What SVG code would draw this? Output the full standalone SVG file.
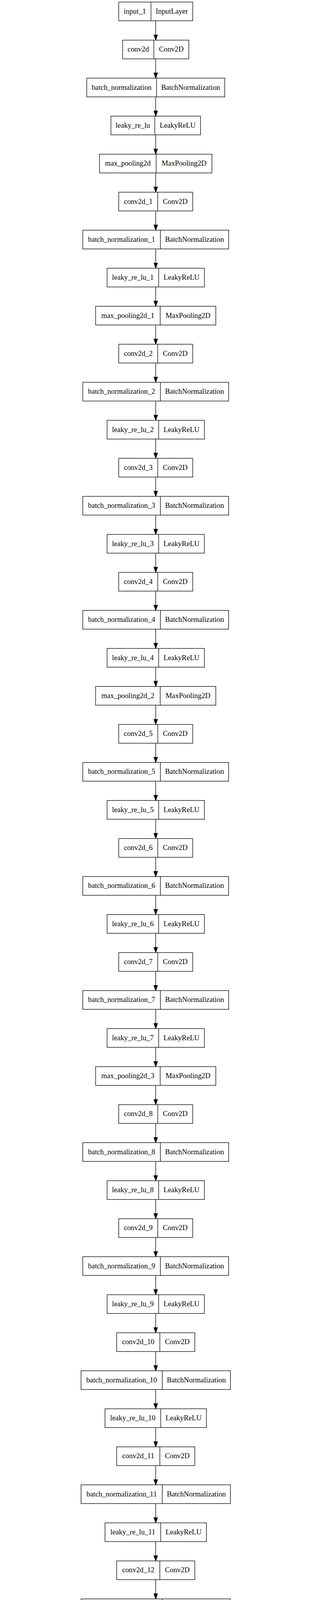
<svg xmlns="http://www.w3.org/2000/svg" width="800" height="6873" viewBox="0 0 800 6873">
<style>
.node rect{fill:#fff;stroke:#000;stroke-width:1.33}
.node line{stroke:#000;stroke-width:1.33}
.node text{font-family:"Liberation Serif","Times New Roman",serif;font-size:18.67px;text-anchor:middle;fill:#000}
#edges path{fill:none;stroke:#000;stroke-width:1.33;marker-end:url(#ah)}
</style>
<defs>
<marker id="ah" markerUnits="userSpaceOnUse" markerWidth="14" markerHeight="10" refX="13.3" refY="4.67" orient="auto" overflow="visible">
<path d="M0,0 L13.3,4.67 L0,9.33 z" fill="#000" stroke="#000" stroke-width="1.33"/>
</marker>
</defs>
<rect width="800" height="6873" fill="#fff"/>
<g id="edges">
<path d="M399.3,53.3V102.7"/><path d="M399.3,150.7V200"/><path d="M399.3,248V297.3"/><path d="M399.3,345.3V394.7"/>
<path d="M399.3,442.7V492"/><path d="M399.3,540V589.3"/><path d="M399.3,637.3V686.6"/><path d="M399.3,734.6V784"/>
<path d="M399.3,832V881.3"/><path d="M399.3,929.3V978.6"/><path d="M399.3,1026.6V1076"/><path d="M399.3,1124V1173.3"/>
<path d="M399.3,1221.3V1270.6"/><path d="M399.3,1318.6V1368"/><path d="M399.3,1416V1465.3"/><path d="M399.3,1513.3V1562.6"/>
<path d="M399.3,1610.6V1660"/><path d="M399.3,1708V1757.3"/><path d="M399.3,1805.3V1854.6"/><path d="M399.3,1902.6V1951.9"/>
<path d="M399.3,1999.9V2049.3"/><path d="M399.3,2097.3V2146.6"/><path d="M399.3,2194.6V2243.9"/><path d="M399.3,2291.9V2341.3"/>
<path d="M399.3,2389.3V2438.6"/><path d="M399.3,2486.6V2535.9"/><path d="M399.3,2583.9V2633.2"/><path d="M399.3,2681.2V2730.6"/>
<path d="M399.3,2778.6V2827.9"/><path d="M399.3,2875.9V2925.2"/><path d="M399.3,2973.2V3022.6"/><path d="M399.3,3070.6V3119.9"/>
<path d="M399.3,3167.9V3217.2"/><path d="M399.3,3265.2V3314.5"/><path d="M399.3,3362.5V3411.9"/><path d="M399.3,3459.9V3509.2"/>
<path d="M399.3,3557.2V3606.5"/><path d="M399.3,3654.5V3703.9"/><path d="M399.3,3751.9V3801.2"/><path d="M399.3,3849.2V3898.5"/>
<path d="M399.3,3946.5V3995.9"/><path d="M399.3,4043.9V4093.2"/><path d="M399.3,4141.2V4190.5"/>
<path d="M375,4238.5L326.5,4287.8"/>
<path d="M424.5,4238.5C445,4260 485,4300 539.3,4385.2"/>
<path d="M299,4335.8L292.3,4385.2"/>
<path d="M264.3,4433.2L218.4,4482.5"/>
<path d="M567.9,4433.2L591.8,4482.5"/>
<path d="M212.2,4530.5L242.9,4579.8"/>
<path d="M595.4,4530.5L580.1,4579.8"/>
<path d="M262.2,4627.8L269.4,4677.2"/>
<path d="M566.3,4627.8L555.1,4677.2"/>
<path d="M546,4725.2C541,4800 536.7,4850 536.7,4900L536.7,6240C536.7,6320 500,6370 442.5,6429.1"/>
<path d="M274,4725.2V4774.5"/><path d="M274,4822.5V4871.8"/><path d="M274,4919.8V4969.2"/><path d="M274,5017.2V5066.5"/>
<path d="M274,5114.5V5163.8"/><path d="M274,5211.8V5261.2"/><path d="M274,5309.2V5358.5"/><path d="M274,5406.5V5455.8"/>
<path d="M274,5503.8V5553.1"/><path d="M274,5601.1V5650.5"/><path d="M274,5698.5V5747.8"/>
<path d="M274.5,5795.8L275.5,5845.1"/>
<path d="M276,5893.1L277,5942.5"/>
<path d="M277.6,5990.5L278.6,6039.8"/>
<path d="M280.6,6087.8L282.7,6137.1"/>
<path d="M287.2,6185.1L291.8,6234.5"/>
<path d="M304.8,6282.5L323,6331.8"/>
<path d="M352.9,6379.8L395.2,6429.1"/>
<path d="M415.3,6477.1V6526.4"/><path d="M415.3,6574.4V6623.8"/><path d="M415.3,6671.8V6721.1"/><path d="M415.3,6769.1V6818.4"/>
</g>
<g id="input_1" class="node" transform="translate(304.45,5.3)"><rect width="189.7" height="48"/><line x1="82.7" y1="0" x2="82.7" y2="48"/><text x="41.35" y="29.5">input_1</text><text x="136.2" y="29.5">InputLayer</text></g>
<g id="conv2d" class="node" transform="translate(314.45,102.7)"><rect width="169.7" height="48"/><line x1="80" y1="0" x2="80" y2="48"/><text x="40" y="29.5">conv2d</text><text x="124.85" y="29.5">Conv2D</text></g>
<g id="batch_normalization" class="node" transform="translate(222.45,200)"><rect width="353.7" height="48"/><line x1="179" y1="0" x2="179" y2="48"/><text x="89.5" y="29.5">batch_normalization</text><text x="266.35" y="29.5">BatchNormalization</text></g>
<g id="leaky_re_lu" class="node" transform="translate(284.45,297.3)"><rect width="229.7" height="48"/><line x1="112.4" y1="0" x2="112.4" y2="48"/><text x="56.2" y="29.5">leaky_re_lu</text><text x="171.05" y="29.5">LeakyReLU</text></g>
<g id="max_pooling2d" class="node" transform="translate(255.15,394.7)"><rect width="288.3" height="48"/><line x1="145.3" y1="0" x2="145.3" y2="48"/><text x="72.65" y="29.5">max_pooling2d</text><text x="216.8" y="29.5">MaxPooling2D</text></g>
<g id="conv2d_1" class="node" transform="translate(304.45,492)"><rect width="189.7" height="48"/><line x1="100" y1="0" x2="100" y2="48"/><text x="50" y="29.5">conv2d_1</text><text x="144.85" y="29.5">Conv2D</text></g>
<g id="batch_normalization_1" class="node" transform="translate(212.3,589.3)"><rect width="374" height="48"/><line x1="199" y1="0" x2="199" y2="48"/><text x="99.5" y="29.5">batch_normalization_1</text><text x="286.5" y="29.5">BatchNormalization</text></g>
<g id="leaky_re_lu_1" class="node" transform="translate(274.5,686.6)"><rect width="249.6" height="48"/><line x1="132.3" y1="0" x2="132.3" y2="48"/><text x="66.15" y="29.5">leaky_re_lu_1</text><text x="190.95" y="29.5">LeakyReLU</text></g>
<g id="max_pooling2d_1" class="node" transform="translate(245.2,784)"><rect width="308.2" height="48"/><line x1="165.5" y1="0" x2="165.5" y2="48"/><text x="82.75" y="29.5">max_pooling2d_1</text><text x="236.85" y="29.5">MaxPooling2D</text></g>
<g id="conv2d_2" class="node" transform="translate(304.45,881.3)"><rect width="189.7" height="48"/><line x1="100" y1="0" x2="100" y2="48"/><text x="50" y="29.5">conv2d_2</text><text x="144.85" y="29.5">Conv2D</text></g>
<g id="batch_normalization_2" class="node" transform="translate(212.3,978.6)"><rect width="374" height="48"/><line x1="199" y1="0" x2="199" y2="48"/><text x="99.5" y="29.5">batch_normalization_2</text><text x="286.5" y="29.5">BatchNormalization</text></g>
<g id="leaky_re_lu_2" class="node" transform="translate(274.5,1076)"><rect width="249.6" height="48"/><line x1="132.3" y1="0" x2="132.3" y2="48"/><text x="66.15" y="29.5">leaky_re_lu_2</text><text x="190.95" y="29.5">LeakyReLU</text></g>
<g id="conv2d_3" class="node" transform="translate(304.45,1173.3)"><rect width="189.7" height="48"/><line x1="100" y1="0" x2="100" y2="48"/><text x="50" y="29.5">conv2d_3</text><text x="144.85" y="29.5">Conv2D</text></g>
<g id="batch_normalization_3" class="node" transform="translate(212.3,1270.6)"><rect width="374" height="48"/><line x1="199" y1="0" x2="199" y2="48"/><text x="99.5" y="29.5">batch_normalization_3</text><text x="286.5" y="29.5">BatchNormalization</text></g>
<g id="leaky_re_lu_3" class="node" transform="translate(274.5,1368)"><rect width="249.6" height="48"/><line x1="132.3" y1="0" x2="132.3" y2="48"/><text x="66.15" y="29.5">leaky_re_lu_3</text><text x="190.95" y="29.5">LeakyReLU</text></g>
<g id="conv2d_4" class="node" transform="translate(304.45,1465.3)"><rect width="189.7" height="48"/><line x1="100" y1="0" x2="100" y2="48"/><text x="50" y="29.5">conv2d_4</text><text x="144.85" y="29.5">Conv2D</text></g>
<g id="batch_normalization_4" class="node" transform="translate(212.3,1562.6)"><rect width="374" height="48"/><line x1="199" y1="0" x2="199" y2="48"/><text x="99.5" y="29.5">batch_normalization_4</text><text x="286.5" y="29.5">BatchNormalization</text></g>
<g id="leaky_re_lu_4" class="node" transform="translate(274.5,1660)"><rect width="249.6" height="48"/><line x1="132.3" y1="0" x2="132.3" y2="48"/><text x="66.15" y="29.5">leaky_re_lu_4</text><text x="190.95" y="29.5">LeakyReLU</text></g>
<g id="max_pooling2d_2" class="node" transform="translate(245.2,1757.3)"><rect width="308.2" height="48"/><line x1="165.5" y1="0" x2="165.5" y2="48"/><text x="82.75" y="29.5">max_pooling2d_2</text><text x="236.85" y="29.5">MaxPooling2D</text></g>
<g id="conv2d_5" class="node" transform="translate(304.45,1854.6)"><rect width="189.7" height="48"/><line x1="100" y1="0" x2="100" y2="48"/><text x="50" y="29.5">conv2d_5</text><text x="144.85" y="29.5">Conv2D</text></g>
<g id="batch_normalization_5" class="node" transform="translate(212.3,1951.9)"><rect width="374" height="48"/><line x1="199" y1="0" x2="199" y2="48"/><text x="99.5" y="29.5">batch_normalization_5</text><text x="286.5" y="29.5">BatchNormalization</text></g>
<g id="leaky_re_lu_5" class="node" transform="translate(274.5,2049.3)"><rect width="249.6" height="48"/><line x1="132.3" y1="0" x2="132.3" y2="48"/><text x="66.15" y="29.5">leaky_re_lu_5</text><text x="190.95" y="29.5">LeakyReLU</text></g>
<g id="conv2d_6" class="node" transform="translate(304.45,2146.6)"><rect width="189.7" height="48"/><line x1="100" y1="0" x2="100" y2="48"/><text x="50" y="29.5">conv2d_6</text><text x="144.85" y="29.5">Conv2D</text></g>
<g id="batch_normalization_6" class="node" transform="translate(212.3,2243.9)"><rect width="374" height="48"/><line x1="199" y1="0" x2="199" y2="48"/><text x="99.5" y="29.5">batch_normalization_6</text><text x="286.5" y="29.5">BatchNormalization</text></g>
<g id="leaky_re_lu_6" class="node" transform="translate(274.5,2341.3)"><rect width="249.6" height="48"/><line x1="132.3" y1="0" x2="132.3" y2="48"/><text x="66.15" y="29.5">leaky_re_lu_6</text><text x="190.95" y="29.5">LeakyReLU</text></g>
<g id="conv2d_7" class="node" transform="translate(304.45,2438.6)"><rect width="189.7" height="48"/><line x1="100" y1="0" x2="100" y2="48"/><text x="50" y="29.5">conv2d_7</text><text x="144.85" y="29.5">Conv2D</text></g>
<g id="batch_normalization_7" class="node" transform="translate(212.3,2535.9)"><rect width="374" height="48"/><line x1="199" y1="0" x2="199" y2="48"/><text x="99.5" y="29.5">batch_normalization_7</text><text x="286.5" y="29.5">BatchNormalization</text></g>
<g id="leaky_re_lu_7" class="node" transform="translate(274.5,2633.2)"><rect width="249.6" height="48"/><line x1="132.3" y1="0" x2="132.3" y2="48"/><text x="66.15" y="29.5">leaky_re_lu_7</text><text x="190.95" y="29.5">LeakyReLU</text></g>
<g id="max_pooling2d_3" class="node" transform="translate(245.2,2730.6)"><rect width="308.2" height="48"/><line x1="165.5" y1="0" x2="165.5" y2="48"/><text x="82.75" y="29.5">max_pooling2d_3</text><text x="236.85" y="29.5">MaxPooling2D</text></g>
<g id="conv2d_8" class="node" transform="translate(304.45,2827.9)"><rect width="189.7" height="48"/><line x1="100" y1="0" x2="100" y2="48"/><text x="50" y="29.5">conv2d_8</text><text x="144.85" y="29.5">Conv2D</text></g>
<g id="batch_normalization_8" class="node" transform="translate(212.3,2925.2)"><rect width="374" height="48"/><line x1="199" y1="0" x2="199" y2="48"/><text x="99.5" y="29.5">batch_normalization_8</text><text x="286.5" y="29.5">BatchNormalization</text></g>
<g id="leaky_re_lu_8" class="node" transform="translate(274.5,3022.6)"><rect width="249.6" height="48"/><line x1="132.3" y1="0" x2="132.3" y2="48"/><text x="66.15" y="29.5">leaky_re_lu_8</text><text x="190.95" y="29.5">LeakyReLU</text></g>
<g id="conv2d_9" class="node" transform="translate(304.45,3119.9)"><rect width="189.7" height="48"/><line x1="100" y1="0" x2="100" y2="48"/><text x="50" y="29.5">conv2d_9</text><text x="144.85" y="29.5">Conv2D</text></g>
<g id="batch_normalization_9" class="node" transform="translate(212.3,3217.2)"><rect width="374" height="48"/><line x1="199" y1="0" x2="199" y2="48"/><text x="99.5" y="29.5">batch_normalization_9</text><text x="286.5" y="29.5">BatchNormalization</text></g>
<g id="leaky_re_lu_9" class="node" transform="translate(274.5,3314.5)"><rect width="249.6" height="48"/><line x1="132.3" y1="0" x2="132.3" y2="48"/><text x="66.15" y="29.5">leaky_re_lu_9</text><text x="190.95" y="29.5">LeakyReLU</text></g>
<g id="conv2d_10" class="node" transform="translate(299.1,3411.9)"><rect width="200.4" height="48"/><line x1="110.7" y1="0" x2="110.7" y2="48"/><text x="55.35" y="29.5">conv2d_10</text><text x="155.55" y="29.5">Conv2D</text></g>
<g id="batch_normalization_10" class="node" transform="translate(207.8,3509.2)"><rect width="383" height="48"/><line x1="208.3" y1="0" x2="208.3" y2="48"/><text x="104.15" y="29.5">batch_normalization_10</text><text x="295.65" y="29.5">BatchNormalization</text></g>
<g id="leaky_re_lu_10" class="node" transform="translate(269.3,3606.5)"><rect width="260" height="48"/><line x1="142.7" y1="0" x2="142.7" y2="48"/><text x="71.35" y="29.5">leaky_re_lu_10</text><text x="201.35" y="29.5">LeakyReLU</text></g>
<g id="conv2d_11" class="node" transform="translate(299.1,3703.9)"><rect width="200.4" height="48"/><line x1="110.7" y1="0" x2="110.7" y2="48"/><text x="55.35" y="29.5">conv2d_11</text><text x="155.55" y="29.5">Conv2D</text></g>
<g id="batch_normalization_11" class="node" transform="translate(207.8,3801.2)"><rect width="383" height="48"/><line x1="208.3" y1="0" x2="208.3" y2="48"/><text x="104.15" y="29.5">batch_normalization_11</text><text x="295.65" y="29.5">BatchNormalization</text></g>
<g id="leaky_re_lu_11" class="node" transform="translate(269.3,3898.5)"><rect width="260" height="48"/><line x1="142.7" y1="0" x2="142.7" y2="48"/><text x="71.35" y="29.5">leaky_re_lu_11</text><text x="201.35" y="29.5">LeakyReLU</text></g>
<g id="conv2d_12" class="node" transform="translate(299.1,3995.9)"><rect width="200.4" height="48"/><line x1="110.7" y1="0" x2="110.7" y2="48"/><text x="55.35" y="29.5">conv2d_12</text><text x="155.55" y="29.5">Conv2D</text></g>
<g id="batch_normalization_12" class="node" transform="translate(207.8,4093.2)"><rect width="383" height="48"/><line x1="208.3" y1="0" x2="208.3" y2="48"/><text x="104.15" y="29.5">batch_normalization_12</text><text x="295.65" y="29.5">BatchNormalization</text></g>
<g id="leaky_re_lu_12" class="node" transform="translate(269.3,4190.5)"><rect width="260" height="48"/><line x1="142.7" y1="0" x2="142.7" y2="48"/><text x="71.35" y="29.5">leaky_re_lu_12</text><text x="201.35" y="29.5">LeakyReLU</text></g>
<g id="max_pooling2d_4" class="node" transform="translate(149,4287.8)"><rect width="308.2" height="48"/><line x1="165.5" y1="0" x2="165.5" y2="48"/><text x="82.75" y="29.5">max_pooling2d_4</text><text x="236.85" y="29.5">MaxPooling2D</text></g>
<g id="conv2d_13" class="node" transform="translate(187.2,4385.2)"><rect width="200.4" height="48"/><line x1="110.7" y1="0" x2="110.7" y2="48"/><text x="55.35" y="29.5">conv2d_13</text><text x="155.55" y="29.5">Conv2D</text></g>
<g id="conv2d_20" class="node" transform="translate(456.6,4385.2)"><rect width="200.4" height="48"/><line x1="110.7" y1="0" x2="110.7" y2="48"/><text x="55.35" y="29.5">conv2d_20</text><text x="155.55" y="29.5">Conv2D</text></g>
<g id="batch_normalization_13" class="node" transform="translate(5.1,4482.5)"><rect width="383" height="48"/><line x1="208.3" y1="0" x2="208.3" y2="48"/><text x="104.15" y="29.5">batch_normalization_13</text><text x="295.65" y="29.5">BatchNormalization</text></g>
<g id="batch_normalization_20" class="node" transform="translate(411.7,4482.5)"><rect width="383" height="48"/><line x1="208.3" y1="0" x2="208.3" y2="48"/><text x="104.15" y="29.5">batch_normalization_20</text><text x="295.65" y="29.5">BatchNormalization</text></g>
<g id="leaky_re_lu_13" class="node" transform="translate(127.6,4579.8)"><rect width="260" height="48"/><line x1="142.7" y1="0" x2="142.7" y2="48"/><text x="71.35" y="29.5">leaky_re_lu_13</text><text x="201.35" y="29.5">LeakyReLU</text></g>
<g id="leaky_re_lu_20" class="node" transform="translate(442.3,4579.8)"><rect width="260" height="48"/><line x1="142.7" y1="0" x2="142.7" y2="48"/><text x="71.35" y="29.5">leaky_re_lu_20</text><text x="201.35" y="29.5">LeakyReLU</text></g>
<g id="conv2d_14" class="node" transform="translate(173.8,4677.2)"><rect width="200.4" height="48"/><line x1="110.7" y1="0" x2="110.7" y2="48"/><text x="55.35" y="29.5">conv2d_14</text><text x="155.55" y="29.5">Conv2D</text></g>
<g id="space_to_depth_x2" class="node" transform="translate(420.4,4677.2)"><rect width="256.1" height="48"/><line x1="170.4" y1="0" x2="170.4" y2="48"/><text x="85.2" y="29.5">space_to_depth_x2</text><text x="213.25" y="29.5">Lambda</text></g>
<g id="batch_normalization_14" class="node" transform="translate(82.5,4774.5)"><rect width="383" height="48"/><line x1="208.3" y1="0" x2="208.3" y2="48"/><text x="104.15" y="29.5">batch_normalization_14</text><text x="295.65" y="29.5">BatchNormalization</text></g>
<g id="leaky_re_lu_14" class="node" transform="translate(144,4871.8)"><rect width="260" height="48"/><line x1="142.7" y1="0" x2="142.7" y2="48"/><text x="71.35" y="29.5">leaky_re_lu_14</text><text x="201.35" y="29.5">LeakyReLU</text></g>
<g id="conv2d_15" class="node" transform="translate(173.8,4969.2)"><rect width="200.4" height="48"/><line x1="110.7" y1="0" x2="110.7" y2="48"/><text x="55.35" y="29.5">conv2d_15</text><text x="155.55" y="29.5">Conv2D</text></g>
<g id="batch_normalization_15" class="node" transform="translate(82.5,5066.5)"><rect width="383" height="48"/><line x1="208.3" y1="0" x2="208.3" y2="48"/><text x="104.15" y="29.5">batch_normalization_15</text><text x="295.65" y="29.5">BatchNormalization</text></g>
<g id="leaky_re_lu_15" class="node" transform="translate(144,5163.8)"><rect width="260" height="48"/><line x1="142.7" y1="0" x2="142.7" y2="48"/><text x="71.35" y="29.5">leaky_re_lu_15</text><text x="201.35" y="29.5">LeakyReLU</text></g>
<g id="conv2d_16" class="node" transform="translate(173.8,5261.2)"><rect width="200.4" height="48"/><line x1="110.7" y1="0" x2="110.7" y2="48"/><text x="55.35" y="29.5">conv2d_16</text><text x="155.55" y="29.5">Conv2D</text></g>
<g id="batch_normalization_16" class="node" transform="translate(82.5,5358.5)"><rect width="383" height="48"/><line x1="208.3" y1="0" x2="208.3" y2="48"/><text x="104.15" y="29.5">batch_normalization_16</text><text x="295.65" y="29.5">BatchNormalization</text></g>
<g id="leaky_re_lu_16" class="node" transform="translate(144,5455.8)"><rect width="260" height="48"/><line x1="142.7" y1="0" x2="142.7" y2="48"/><text x="71.35" y="29.5">leaky_re_lu_16</text><text x="201.35" y="29.5">LeakyReLU</text></g>
<g id="conv2d_17" class="node" transform="translate(173.8,5553.1)"><rect width="200.4" height="48"/><line x1="110.7" y1="0" x2="110.7" y2="48"/><text x="55.35" y="29.5">conv2d_17</text><text x="155.55" y="29.5">Conv2D</text></g>
<g id="batch_normalization_17" class="node" transform="translate(82.5,5650.5)"><rect width="383" height="48"/><line x1="208.3" y1="0" x2="208.3" y2="48"/><text x="104.15" y="29.5">batch_normalization_17</text><text x="295.65" y="29.5">BatchNormalization</text></g>
<g id="leaky_re_lu_17" class="node" transform="translate(144,5747.8)"><rect width="260" height="48"/><line x1="142.7" y1="0" x2="142.7" y2="48"/><text x="71.35" y="29.5">leaky_re_lu_17</text><text x="201.35" y="29.5">LeakyReLU</text></g>
<g id="conv2d_18" class="node" transform="translate(175,5845.1)"><rect width="200.4" height="48"/><line x1="110.7" y1="0" x2="110.7" y2="48"/><text x="55.35" y="29.5">conv2d_18</text><text x="155.55" y="29.5">Conv2D</text></g>
<g id="batch_normalization_18" class="node" transform="translate(85.2,5942.5)"><rect width="383" height="48"/><line x1="208.3" y1="0" x2="208.3" y2="48"/><text x="104.15" y="29.5">batch_normalization_18</text><text x="295.65" y="29.5">BatchNormalization</text></g>
<g id="leaky_re_lu_18" class="node" transform="translate(149,6039.8)"><rect width="260" height="48"/><line x1="142.7" y1="0" x2="142.7" y2="48"/><text x="71.35" y="29.5">leaky_re_lu_18</text><text x="201.35" y="29.5">LeakyReLU</text></g>
<g id="conv2d_19" class="node" transform="translate(184.7,6137.1)"><rect width="200.4" height="48"/><line x1="110.7" y1="0" x2="110.7" y2="48"/><text x="55.35" y="29.5">conv2d_19</text><text x="155.55" y="29.5">Conv2D</text></g>
<g id="batch_normalization_19" class="node" transform="translate(103.6,6234.5)"><rect width="383" height="48"/><line x1="208.3" y1="0" x2="208.3" y2="48"/><text x="104.15" y="29.5">batch_normalization_19</text><text x="295.65" y="29.5">BatchNormalization</text></g>
<g id="leaky_re_lu_19" class="node" transform="translate(202.6,6331.8)"><rect width="260" height="48"/><line x1="142.7" y1="0" x2="142.7" y2="48"/><text x="71.35" y="29.5">leaky_re_lu_19</text><text x="201.35" y="29.5">LeakyReLU</text></g>
<g id="concatenate" class="node" transform="translate(302.6,6429.1)"><rect width="225.4" height="48"/><line x1="110.2" y1="0" x2="110.2" y2="48"/><text x="55.1" y="29.5">concatenate</text><text x="167.8" y="29.5">Concatenate</text></g>
<g id="conv2d_21" class="node" transform="translate(314.8,6526.4)"><rect width="200.4" height="48"/><line x1="110.7" y1="0" x2="110.7" y2="48"/><text x="55.35" y="29.5">conv2d_21</text><text x="155.55" y="29.5">Conv2D</text></g>
<g id="batch_normalization_21" class="node" transform="translate(223.5,6623.8)"><rect width="383" height="48"/><line x1="208.3" y1="0" x2="208.3" y2="48"/><text x="104.15" y="29.5">batch_normalization_21</text><text x="295.65" y="29.5">BatchNormalization</text></g>
<g id="leaky_re_lu_21" class="node" transform="translate(285.2,6721.1)"><rect width="260" height="48"/><line x1="142.7" y1="0" x2="142.7" y2="48"/><text x="71.35" y="29.5">leaky_re_lu_21</text><text x="201.35" y="29.5">LeakyReLU</text></g>
<g id="conv2d_22" class="node" transform="translate(314.8,6818.4)"><rect width="200.4" height="48"/><line x1="110.7" y1="0" x2="110.7" y2="48"/><text x="55.35" y="29.5">conv2d_22</text><text x="155.55" y="29.5">Conv2D</text></g>
</svg>
